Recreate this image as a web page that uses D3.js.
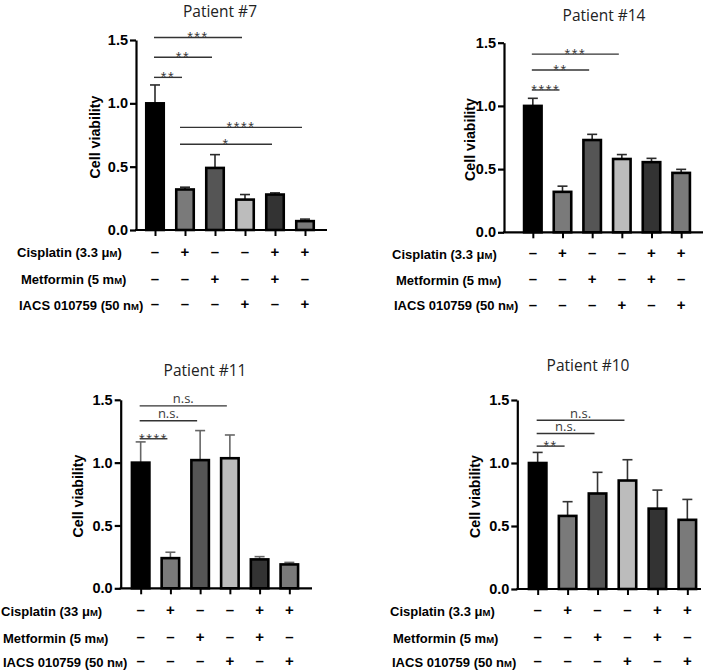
<!DOCTYPE html>
<html><head><meta charset="utf-8">
<script src="https://cdn.jsdelivr.net/npm/d3@7"></script>
<style>body{margin:0;background:#fff}svg{display:block}</style>
</head><body>
<svg id="chart" width="709" height="670"></svg>
<script>
// ---------- data ----------
const groups = ["G1","G2","G3","G4","G5","G6"];
const barColors = ["#000000","#7a7a7a","#555555","#bcbcbc","#333333","#7a7a7a"];
const yTicks = [0, 0.5, 1.0, 1.5];
const yLabel = "Cell viability";

const titles = ["Patient #7","Patient #14","Patient #11","Patient #10"];

const p7Mean = [1.00, 0.32, 0.49, 0.24, 0.28, 0.07];
const p7Err  = [0.145, 0.018, 0.105, 0.040, 0.013, 0.016];
const p14Mean = [1.00, 0.32, 0.73, 0.58, 0.555, 0.47];
const p14Err  = [0.06, 0.045, 0.045, 0.035, 0.03, 0.028];
const p11Mean = [1.00, 0.24, 1.02, 1.035, 0.23, 0.19];
const p11Err  = [0.165, 0.047, 0.235, 0.185, 0.022, 0.016];
const p10Mean = [1.00, 0.58, 0.758, 0.861, 0.638, 0.549];
const p10Err  = [0.084, 0.113, 0.168, 0.165, 0.147, 0.162];

const p7Sig = [
  {from:0,to:3,level:1.52,label:"***"},
  {from:0,to:2,level:1.364,label:"**"},
  {from:0,to:1,level:1.205,label:"**"},
  {from:1,to:5,level:0.81,label:"****"},
  {from:1,to:4,level:0.677,label:"*"}
];
const p14Sig = [
  {from:0,to:3,level:1.41,label:"***"},
  {from:0,to:2,level:1.284,label:"**"},
  {from:0,to:1,level:1.126,label:"****"}
];
const p11Sig = [
  {from:0,to:3,level:1.452,label:"n.s."},
  {from:0,to:2,level:1.333,label:"n.s."},
  {from:0,to:1,level:1.19,label:"****"}
];
const p10Sig = [
  {from:0,to:3,level:1.339,label:"n.s."},
  {from:0,to:2,level:1.234,label:"n.s."},
  {from:0,to:1,level:1.134,label:"**"}
];

const cisplatin = ["–","+","–","–","+","+"];
const metformin = ["–","–","+","–","+","–"];
const iacs      = ["–","–","–","+","–","+"];

// treatment labels: [main text, unit prefix, small-cap unit, closing]
const cisLabel33 = ["Cisplatin (3.3 ", "μ", "M", ")"];
const cisLabel330 = ["Cisplatin (33 ", "μ", "M", ")"];
const metLabel = ["Metformin (5 ", "m", "M", ")"];
const iacsLabel = ["IACS 010759 (50 ", "n", "M", ")"];

// ---------- layout ----------
const panels = [
  {title:titles[0], mean:p7Mean, err:p7Err, sig:p7Sig, cis:cisLabel33, errColor:"#2a2a2a",
   axisX:136, y0:230, y15:40, xr:[140,320], xEnd:327, tx:220, ty:17, labX:95,
   condX:[17,21,19], rowY:[257,284,309.5]},
  {title:titles[1], mean:p14Mean, err:p14Err, sig:p14Sig, cis:cisLabel33, errColor:"#2a2a2a",
   axisX:504, y0:232.3, y15:42.7, xr:[518,696], xEnd:703, tx:604, ty:20.5, labX:470,
   condX:[392,396,394], rowY:[258.5,284.5,310]},
  {title:titles[2], mean:p11Mean, err:p11Err, sig:p11Sig, cis:cisLabel330, errColor:"#666666",
   axisX:120.7, y0:588.3, y15:399.8, xr:[125.8,304.2], xEnd:312, tx:205, ty:376, labX:78,
   condX:[1,3,3], rowY:[615.5,642.5,666.5]},
  {title:titles[3], mean:p10Mean, err:p10Err, sig:p10Sig, cis:cisLabel33, errColor:"#333333",
   axisX:517.3, y0:589, y15:400, xr:[522.7,702.3], xEnd:701, tx:588, ty:371, labX:475,
   condX:[390,393,392], rowY:[615.5,642.5,666.5]}
];

const svg = d3.select("#chart");
const boldFont = "'Liberation Sans', Arial, sans-serif";
const lightFont = "'Open Sans', 'Noto Sans', sans-serif";

panels.forEach(p => {
  const g = svg.append("g");
  const x = d3.scalePoint().domain(groups).range(p.xr).padding(0.5);
  const y = d3.scaleLinear().domain([0,1.5]).range([p.y0, p.y15]);
  const bw = 17.5;

  // title
  g.append("text").attr("x", p.tx).attr("y", p.ty).attr("text-anchor","middle")
    .attr("font-family", lightFont).attr("font-size", 15.5).attr("fill","#222").text(p.title);

  // y label
  const lcy = (p.y0 + p.y15)/2 + 2;
  g.append("text").attr("transform", `translate(${p.labX + 5},${lcy}) rotate(-90)`)
    .attr("text-anchor","middle").attr("font-family", boldFont).attr("font-weight","bold")
    .attr("font-size", 14.2).attr("fill","#000").text(yLabel);

  // bars
  const data = groups.map((k,i)=>({k, m:p.mean[i], e:p.err[i], c:barColors[i]}));
  const eb = g.append("g").attr("stroke", p.errColor).attr("stroke-width", 1.6).attr("fill","none");
  data.forEach(d => {
    const cx = x(d.k);
    eb.append("line").attr("x1",cx).attr("x2",cx).attr("y1",y(d.m)).attr("y2",y(d.m+d.e));
    eb.append("line").attr("x1",cx-5).attr("x2",cx+5).attr("y1",y(d.m+d.e)).attr("y2",y(d.m+d.e));
  });
  g.append("g").selectAll("rect").data(data).join("rect")
    .attr("x", d => x(d.k) - bw/2).attr("width", bw)
    .attr("y", d => y(d.m)).attr("height", d => y(0) - y(d.m))
    .attr("fill", d => d.c).attr("stroke","#000").attr("stroke-width",2.6);

  // y axis
  const ya = g.append("g").attr("transform",`translate(${p.axisX},0)`)
    .call(d3.axisLeft(y).tickValues(yTicks).tickFormat(d3.format(".1f")).tickSize(6).tickSizeOuter(0).tickPadding(2));
  ya.select(".domain").attr("stroke","#000").attr("stroke-width",2.2);
  ya.selectAll(".tick line").attr("stroke","#000").attr("stroke-width",2.2);
  ya.selectAll(".tick text").attr("font-family", boldFont).attr("font-weight","bold")
    .attr("font-size", 14.5).attr("fill","#000");

  // x axis
  const xa = g.append("g").attr("transform",`translate(0,${p.y0})`)
    .call(d3.axisBottom(x).tickSize(6).tickSizeOuter(0).tickFormat(""));
  xa.select(".domain").attr("d", `M${p.axisX - 1},0H${p.xEnd}`).attr("stroke","#000").attr("stroke-width",2.2);
  xa.selectAll(".tick line").attr("stroke","#000").attr("stroke-width",2);

  // significance
  const sg = g.append("g");
  p.sig.forEach(s => {
    const x1 = x(groups[s.from]) - (s.from === 0 ? 1 : 5);
    const x2 = x(groups[s.to]) - 3;
    const yy = y(s.level);
    sg.append("line").attr("x1",x1).attr("x2",x2).attr("y1",yy).attr("y2",yy)
      .attr("stroke","#333").attr("stroke-width",1.4);
    const isNs = s.label === "n.s.";
    sg.append("text").attr("x",(x1+x2)/2).attr("y", isNs ? yy - 2.5 : yy + 4.8)
      .attr("text-anchor","middle")
      .attr("font-family", isNs ? lightFont : boldFont)
      .attr("font-size", isNs ? 13 : 14.5)
      .attr("letter-spacing", isNs ? 0 : 1.6)
      .attr("fill","#3a3a3a").text(s.label);
  });

  // condition table
  const rows = [[p.cis, cisplatin],[metLabel, metformin],[iacsLabel, iacs]];
  rows.forEach((r,ri) => {
    const t = g.append("text").attr("x", p.condX[ri]).attr("y", p.rowY[ri])
      .attr("font-family", boldFont).attr("font-weight","bold").attr("font-size",13).attr("fill","#000");
    t.append("tspan").text(r[0][0] + r[0][1]);
    t.append("tspan").attr("font-size",9.5).text(r[0][2]);
    t.append("tspan").text(r[0][3]);
    g.append("g").selectAll("text").data(r[1]).join("text")
      .attr("x",(d,i)=>x(groups[i])).attr("y",p.rowY[ri] - 0.5)
      .attr("text-anchor","middle").attr("font-family",boldFont).attr("font-weight","bold")
      .attr("font-size",15).attr("fill","#000").text(d=>d);
  });
});
</script>
</body></html>
